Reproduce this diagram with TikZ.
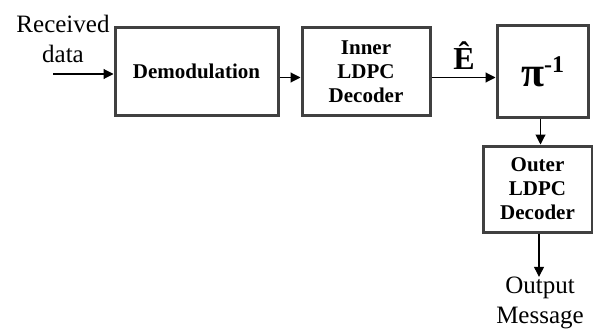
\documentclass[tikz,border=0pt]{standalone}
\usepackage{fontspec}
\setmainfont{Liberation Serif}
\usetikzlibrary{arrows.meta}
\begin{document}
\begin{tikzpicture}[x=1pt,y=-1pt,
  blk/.style={draw=black!75,line width=3pt,rectangle,align=center,inner sep=0pt,
    font=\fontsize{21}{24}\selectfont\bfseries},
  lbl/.style={align=center,inner sep=0pt,font=\fontsize{25}{30}\selectfont},
  conn/.style={line width=1.1pt,-{Triangle[length=10pt,width=10pt]}}]
\useasboundingbox (0,0) rectangle (593,329);
\node[blk,minimum width=163pt,minimum height=87pt] (demod) at (196.5,71.5) {Demodulation};
\node[blk,minimum width=128pt,minimum height=87pt] (inner) at (366,71.5) {Inner\\LDPC\\Decoder};
\node[blk,minimum width=91pt,minimum height=91pt] (pi) at (542.5,71.5)
  {\fontsize{42}{42}\selectfont π\raisebox{14pt}{\fontsize{24}{24}\selectfont -1}};
\node[blk,minimum width=109pt,minimum height=86pt] (outer) at (537.5,189) {Outer\\LDPC\\Decoder};
\node[lbl] (rx) at (63,39) {Received\\data};
\node[lbl] (out) at (540,303) {Output\\Message};
\node[inner sep=0pt,font=\fontsize{32}{32}\selectfont\bfseries] (ehat) at (464,56) {Ê};
\coordinate (in) at (53,74);
\draw[conn] (in) -- (in -| demod.west);
\draw[conn] ([yshift=-6pt]demod.east) -- ([yshift=-6pt]inner.west);
\draw[conn] ([yshift=-6pt]inner.east) -- ([yshift=-6pt]pi.west);
\draw[conn] ([xshift=-2pt]pi.south) -- ([xshift=-2pt]pi.south |- outer.north);
\draw[conn] ([xshift=1.5pt]outer.south) -- ([xshift=1.5pt]outer.south |- out.north);
\end{tikzpicture}
\end{document}
